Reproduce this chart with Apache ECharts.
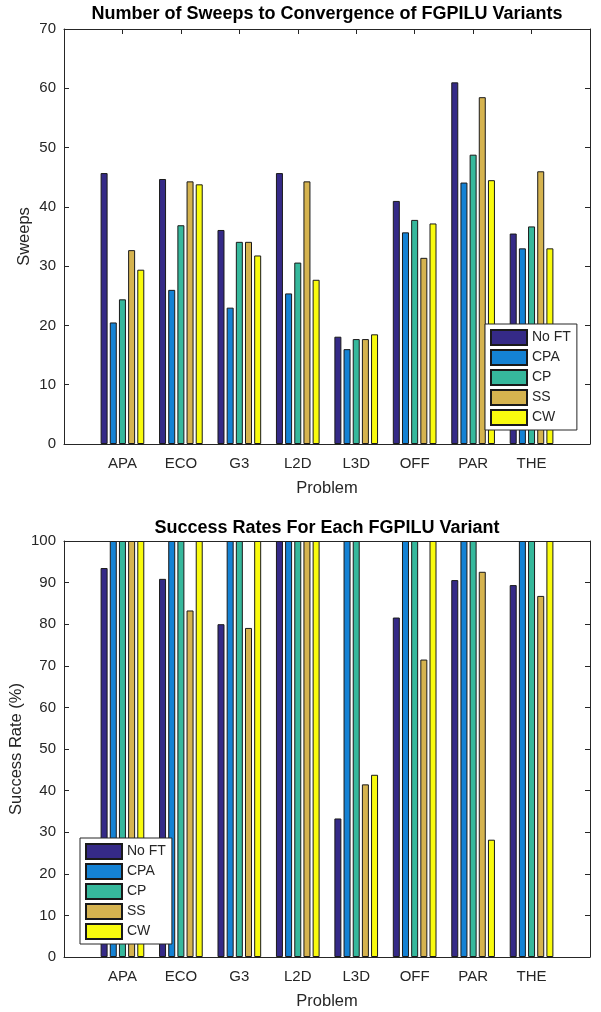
<!DOCTYPE html>
<html>
<head>
<meta charset="utf-8">
<script src="https://cdn.jsdelivr.net/npm/echarts@6/dist/echarts.min.js"></script>
<style>
  html, body { margin: 0; padding: 0; background: #fff; }
  #chart { width: 601px; height: 1012px; }
</style>
</head>
<body>
<div id="chart"></div>
<script>
// Problems and FGPILU variants
const problems = ['APA', 'ECO', 'G3', 'L2D', 'L3D', 'OFF', 'PAR', 'THE'];
const variants = ['No FT', 'CPA', 'CP', 'SS', 'CW'];

// Sweeps to convergence, one array per variant
const sweepsNoFT = [45.7, 44.7, 36.1, 45.7, 18.1, 41.0, 61.0, 35.5];
const sweepsCPA  = [20.5, 26.0, 23.0, 25.4, 16.0, 35.7, 44.1, 33.0];
const sweepsCP   = [24.4, 36.9, 34.1, 30.6, 17.7, 37.8, 48.8, 36.7];
const sweepsSS   = [32.7, 44.3, 34.1, 44.3, 17.7, 31.4, 58.5, 46.0];
const sweepsCW   = [29.4, 43.8, 31.8, 27.7, 18.5, 37.2, 44.5, 33.0];

// Success rates (%), one array per variant
const successNoFT = [93.5, 90.9, 80.0, 100, 33.3, 81.6, 90.6, 89.4];
const successCPA  = [100, 100, 100, 100, 100, 100, 100, 100];
const successCP   = [100, 100, 100, 100, 100, 100, 100, 100];
const successSS   = [100, 83.3, 79.1, 100, 41.5, 71.5, 92.6, 86.8];
const successCW   = [100, 100, 100, 100, 43.8, 100, 28.2, 100];

// Axis tick settings
const sweepsMax = 70, sweepsStep = 10;
const successMax = 100, successStep = 10;

const sweepsData = [sweepsNoFT, sweepsCPA, sweepsCP, sweepsSS, sweepsCW];
const successData = [successNoFT, successCPA, successCP, successSS, successCW];

const palette = ['#352a87', '#1482d4', '#36b89c', '#d5b34f', '#f9fb0e'];
const FONT = '"Liberation Sans", Arial, Helvetica, sans-serif';
const INK = '#262626';

// x runs from 0 to 9 with problems on 1..8, so pad the category list at both ends
const xCats = [''].concat(problems, ['']);
const pad = arr => [null].concat(arr, [null]);

const grids = [
  { left: 64, width: 526, top: 29, height: 415, outerBoundsMode: 'none', containLabel: false },
  { left: 64, width: 526, top: 541, height: 416, outerBoundsMode: 'none', containLabel: false }
];

function xAxes(gridIndex) {
  const common = {
    type: 'category', data: xCats, boundaryGap: false, gridIndex,
    axisLine: { show: true, onZero: false, lineStyle: { color: INK, width: 1 } },
    axisTick: { show: true, inside: true, length: 5, lineStyle: { color: INK } },
    splitLine: { show: false }
  };
  return [
    Object.assign({}, common, {
      position: 'bottom',
      axisLabel: { color: INK, fontFamily: FONT, fontSize: 15, margin: 12 },
      name: 'Problem', nameLocation: 'middle', nameGap: 36,
      nameTextStyle: { color: INK, fontFamily: FONT, fontSize: 16.5 }
    }),
    Object.assign({}, common, { position: 'top', axisLabel: { show: false } })
  ];
}

function yAxes(gridIndex, max, step, name, nameGap) {
  const common = {
    type: 'value', min: 0, max, interval: step, gridIndex,
    axisLine: { show: true, onZero: false, lineStyle: { color: INK, width: 1 } },
    axisTick: { show: true, inside: true, length: 5, lineStyle: { color: INK } },
    splitLine: { show: false }
  };
  return [
    Object.assign({}, common, {
      position: 'left',
      axisLabel: { color: INK, fontFamily: FONT, fontSize: 15, margin: 8 },
      name, nameLocation: 'middle', nameGap, nameMoveOverlap: false,
      nameTextStyle: { color: INK, fontFamily: FONT, fontSize: 16.5 }
    }),
    Object.assign({}, common, { position: 'right', axisLabel: { show: false } })
  ];
}

function barSeries(dataSets, axisIndex) {
  return dataSets.map((vals, i) => ({
    type: 'bar',
    name: variants[i],
    xAxisIndex: axisIndex,
    yAxisIndex: axisIndex,
    data: pad(vals),
    barWidth: 7,
    barGap: '31%',
    itemStyle: { color: palette[i], borderColor: '#1a1a1a', borderWidth: 1 },
    emphasis: { disabled: true },
    animation: false
  }));
}

const legendCommon = {
  orient: 'vertical',
  icon: 'rect',
  itemWidth: 36,
  itemHeight: 15,
  itemGap: 3,
  padding: [5, 6, 4, 5],
  backgroundColor: '#ffffff',
  borderColor: INK,
  borderWidth: 1,
  borderRadius: 0,
  textStyle: { color: INK, fontFamily: FONT, fontSize: 14, lineHeight: 15 },
  data: variants
};

const option = {
  backgroundColor: '#ffffff',
  animation: false,
  title: [
    {
      text: 'Number of Sweeps to Convergence of FGPILU Variants',
      left: 327, top: 5, textAlign: 'center', padding: 0,
      textStyle: { color: '#000', fontFamily: FONT, fontSize: 18, fontWeight: 'bold' }
    },
    {
      text: 'Success Rates For Each FGPILU Variant',
      left: 327, top: 519, textAlign: 'center', padding: 0,
      textStyle: { color: '#000', fontFamily: FONT, fontSize: 18, fontWeight: 'bold' }
    }
  ],
  legend: [
    Object.assign({}, legendCommon, { left: 485, top: 324 }),
    Object.assign({}, legendCommon, { left: 80, top: 838 })
  ],
  grid: grids,
  xAxis: xAxes(0).concat(xAxes(1)),
  yAxis: yAxes(0, sweepsMax, sweepsStep, 'Sweeps', 31)
    .concat(yAxes(1, successMax, successStep, 'Success Rate (%)', 39)),
  // bottom chart bars use the second grid's bottom x axis (2) and left y axis (2)
  series: barSeries(sweepsData, 0).concat(barSeries(successData, 2))
};

const chart = echarts.init(document.getElementById('chart'), null, { renderer: 'canvas' });
chart.setOption(option);
</script>
</body>
</html>
